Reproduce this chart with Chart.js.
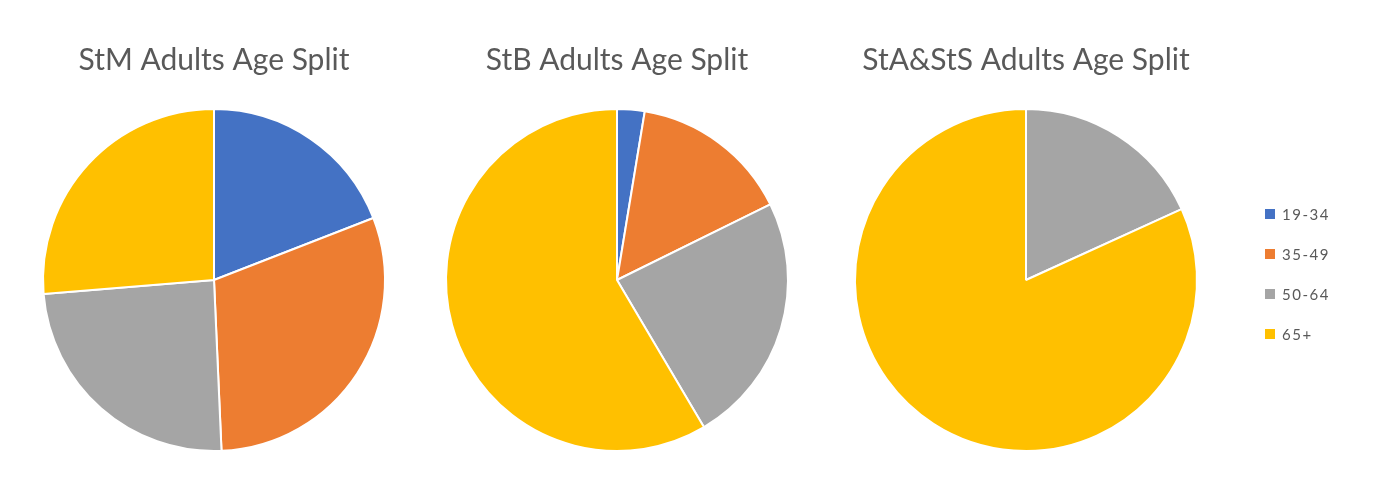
<!DOCTYPE html>
<html>
<head>
<meta charset="utf-8">
<script src="https://cdn.jsdelivr.net/npm/chart.js"></script>
<style>
    body { margin: 0; background: #fff; width: 1391px; height: 480px; overflow: hidden; position: relative; }
    .grafico { position: absolute; top: 0; width: 430px; height: 480px; }
    #legenda { position: absolute; left: 1265px; top: 205px; font-family: Lato, sans-serif; font-size: 15px; color: #595959; letter-spacing: 1.5px; }
    .item { height: 40px; display: flex; align-items: flex-start; }
    .caixa { width: 10px; height: 10px; margin-right: 7px; margin-top: 4px; }
</style>
</head>
<body>
<div class="grafico" style="left:0px"><canvas id="canvas_grafico_stm"></canvas></div>
<div class="grafico" style="left:430px"><canvas id="canvas_grafico_stb"></canvas></div>
<div class="grafico" style="left:840px"><canvas id="canvas_grafico_sta"></canvas></div>
<div id="legenda"></div>
<script>
// faixas etarias e cores (padrao do excel)
let faixas = ['19-34', '35-49', '50-64', '65+'];
let cores = ['#4472C4', '#ED7D31', '#A5A5A5', '#FFC000'];

let dadosStM = [19.1, 30.2, 24.4, 26.3];
let dadosStB = [2.6, 15.1, 23.8, 58.5];
let dadosStA = [0, 0, 18.2, 81.8];

// contexto: canvas do grafico
// nome: titulo do grafico
// dados: percentuais de cada faixa
// esquerda / direita: espaco em volta da pizza dentro do canvas
function criarGrafico(contexto, nome, dados, esquerda, direita) {
    let grafico = new Chart(contexto, {
        type: 'pie',
        data: {
            labels: faixas,
            datasets: [{
                data: dados,
                backgroundColor: cores,
                borderColor: '#ffffff',
                borderWidth: 2
            }]
        },
        options: {
            responsive: true,
            maintainAspectRatio: false,
            animation: false,
            layout: {
                padding: { left: esquerda, right: direita, top: 0, bottom: 28 }
            },
            plugins: {
                legend: { display: false },
                tooltip: { enabled: false },
                title: {
                    display: true,
                    text: nome,
                    color: '#595959',
                    font: { family: 'Lato', size: 30, weight: 'normal', lineHeight: 1.2 },
                    padding: { top: 42, bottom: 30 }
                }
            }
        }
    });
    return grafico;
}

criarGrafico(document.getElementById('canvas_grafico_stm'), 'StM Adults Age Split', dadosStM, 42, 44);
criarGrafico(document.getElementById('canvas_grafico_stb'), 'StB Adults Age Split', dadosStB, 15, 71);
criarGrafico(document.getElementById('canvas_grafico_sta'), 'StA&StS Adults Age Split', dadosStA, 13, 71);

// legenda montada a partir das mesmas listas
let legenda = document.getElementById('legenda');
for (let i = 0; i < faixas.length; i++) {
    let item = document.createElement('div');
    item.className = 'item';
    item.innerHTML = '<div class="caixa" style="background:' + cores[i] + '"></div><span>' + faixas[i] + '</span>';
    legenda.appendChild(item);
}
</script>
</body>
</html>
